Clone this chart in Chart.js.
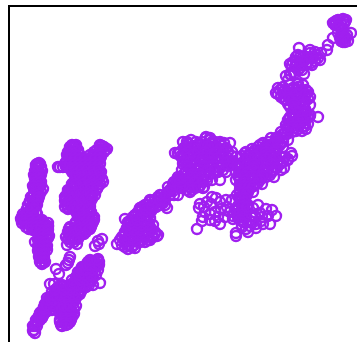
<!DOCTYPE html>
<html><head><meta charset="utf-8">
<style>html,body{margin:0;padding:0;background:#fff}#w{position:relative;width:357px;height:342px}</style>
<script src="https://cdn.jsdelivr.net/npm/chart.js@4"></script></head>
<body><div id="w"><canvas id="c" width="357" height="342"></canvas></div>
<script>
const leftColumn=[[39,179],[38,174],[39,169],[37,164],[38,159],[39,154],[38,149],[36,144],[33,139],[31,134],[33,129],[28,126],[24,121],[29,118],[35,123],[40,120],[45,117],[47,111],[41,114],[33,112],[29,113],[46,105],[41,107],[38,102],[38,96],[43,91],[40,90],[42,84],[42,78],[36,177],[41,172],[36,167],[40,162],[35,157],[41,157],[36,152],[41,150],[33,146],[38,142],[30,139],[35,136],[29,130],[36,130],[25,127],[21,123],[32,124],[27,121],[37,117],[32,117],[43,120],[48,116],[44,111],[37,110],[49,106],[43,102],[35,100],[41,97],[45,93],[38,91],[44,87],[39,85],[40,80],[45,80]];
const leftRows=[[178,[37,40]],[175,[36,41]],[171,[35,38,42]],[167,[34,38,41]],[163,[35,39]],[160,[36,41]],[156,[38,33]],[153,[34,38,43]],[148,[34,39]],[145,[31,39]],[141,[30,34,37]],[137,[28,33,37]],[133,[27,34]],[128,[23,27,32,37]],[125,[22,33]],[122,[22,26,31,37,42]],[119,[22,25,33,38,44,48]],[115,[26,31,36,41,46,48]],[112,[37,45,48]],[108,[39,44,48]],[104,[39,43,48]],[100,[39,41,46]],[96,[40,44,47]],[92,[40,44,47]],[88,[41,44]],[84,[41,44]],[80,[41,44]]];
const midColumn=[[72,194],[75,196],[78,192],[70,187],[74,184],[78,182],[68,177],[58,175],[63,175],[72,172],[78,170],[84,174],[90,177],[93,187],[97,192],[102,196],[107,193],[99,187],[96,180],[92,172],[97,167],[90,164],[83,166],[77,164],[78,163],[80,161],[73,157],[80,157],[87,157],[95,159],[100,158],[68,152],[66,146],[65,141],[65,135],[70,142],[75,147],[82,150],[90,150],[95,147],[78,138],[85,139],[72,134],[80,130],[87,132],[85,124],[90,120],[94,122],[80,118],[76,113],[71,110],[83,110],[88,114],[75,104],[67,97],[77,98],[70,105]];
const midRows=[[195,[70,74,100,104]],[190,[68,73,78,94,99,104]],[185,[68,72,77,92,97,101]],[180,[66,71,76,81,86,91,95]],[175,[60,66,71,76,81,87,93,98]],[170,[72,75,81,86,91,96,101]],[165,[78,80,86,93,100]],[160,[74,75,82,90,97,103]],[155,[72,77,84,92,98]],[150,[68,72,78,86,93]],[145,[65,70,77,84,90]],[140,[68,74,80,88]],[135,[68,76,83,90]],[130,[76,84,91]],[125,[78,82,88,94]],[120,[76,84,87,93]],[115,[70,78,86,91]],[110,[68,74,80,86]],[105,[66,73,79]],[100,[70,74]],
[197,[72,76,100]],[192,[70,75,97,101,105]],[187,[67,72,76,80,90,95,100]],[183,[70,75,80,85,90,95,100]],[178,[65,70,75,80,85,90,95,100]],[173,[72,77,82,88,94,99]],[168,[74,76,82,88,94,100]],[163,[80,84,90,96,102]],[158,[72,76,83,90,94,100]],[153,[72,79,85,91,97]],[148,[68,74,81,88,93]],[143,[66,72,79,86,92]],[138,[66,70,76,83,90]],[133,[68,74,82,89]],[128,[78,83,89]],[123,[79,84,89,93]],[118,[75,82,88,92]],[113,[69,74,80,85,90]],[108,[69,75,81,84]],[103,[68,74,78]]];
const midTail=[[68,79],[69,82],[70,85],[66,77],[98,101],[102,103],[95,96],[99,98]];
const lowerFork=[[56,73],[59,68],[50,58],[54,58],[63,56],[60,52],[52,50],[47,44],[50,44],[57,46],[62,43],[45,38],[48,34],[43,32],[41,27],[38,24],[36,20],[33,16],[33,11],[35,9],[55,39],[52,32],[60,34],[65,37],[62,29],[68,32],[64,22],[62,16],[68,18],[70,26],[70,31],[73,38],[76,44],[80,48],[77,54],[76,59],[78,64],[80,70],[83,74],[87,78],[92,80],[98,83],[97,77],[92,74],[87,70],[85,64],[90,62],[92,68],[100,59],[93,57],[86,55],[82,52],[72,47],[68,44]];
const forkRows=[[26,[39,43]],[30,[41,46]],[35,[44,50,56]],[40,[47,52,58,62,67,72]],[45,[51,55,60,65,71]],[50,[56,62,68,74,79]],[55,[58,66,73,80,85]],[60,[74,79,84,89]],[65,[76,82,88,93]],[70,[78,84,90,95]],[75,[82,90,96]],[80,[88,95,99]],[30,[62,67,72]],[25,[63,68,72]],[20,[60,65,70]],
[12,[34]],[16,[35,37]],[22,[36,40]],[24,[42]],[29,[44,40]],[33,[44,51]],[37,[47,53]],[42,[48,54,60,65,70,75]],[47,[53,60,66,73,78]],[52,[55,64,70,76,81]],[57,[62,70,77,83,89]],[62,[72,80,87,92]],[67,[79,85,91,96]],[72,[82,86,92,98]],[77,[87,90,95,99]],[82,[90,97]],[28,[60,65,70,74]],[33,[62,68,74]],[36,[64,70,76]],[22,[60,66,71]],[17,[61,66]]];
const centreBand=[[117,98],[124,107],[127,114],[125,123],[130,120],[133,114],[130,106],[135,102],[128,97],[128,93],[135,94],[140,100],[145,106],[150,102],[155,108],[157,106],[147,111],[141,117],[135,126],[140,134],[145,130],[150,124],[153,117],[147,137],[155,142],[159,144],[153,135],[160,137],[167,134],[163,139],[170,147],[173,158],[178,160],[173,151],[178,147],[182,154],[186,157]];
const bandRows=[[95,[125,132]],[100,[125,132,138,145]],[105,[122,128,134,140,147,153]],[110,[125,131,137,143,149,155]],[115,[130,137,143,150]],[120,[128,135,142,148]],[125,[133,140,146]],[130,[138,144,150]],[135,[142,150,156]],[140,[150,157,163]],[145,[158,165]],[150,[168]],[155,[178,168]],
[97,[122,128,134]],[102,[120,128,135,142,148]],[107,[125,131,138,145,152,158]],[112,[128,134,140,146,152]],[117,[129,135,141,148]],[122,[131,137,144,150]],[127,[135,142,148]],[132,[140,146,152]],[137,[145,152,158,165]],[142,[150,160,165]],[147,[160,166,174]],[152,[170]]];
const centreCluster=[[183,200],[180,190],[191,202],[197,197],[206,205],[210,202],[215,200],[224,199],[230,199],[185,192],[193,190],[202,192],[210,192],[220,190],[228,190],[236,185],[186,182],[195,182],[205,182],[215,182],[225,182],[178,189],[175,189],[190,174],[200,174],[210,174],[220,174],[230,180],[235,177],[180,164],[187,167],[195,167],[205,167],[215,170],[175,157],[182,159],[190,159],[198,162],[207,161],[172,154],[195,154],[187,152],[203,154]];
const clusterRows=[[198,[188,200,212,220]],[194,[184,192,197,204,210,218,226]],[186,[181,190,197,207,213,220,232]],[178,[183,192,197,207,213,223,232]],[170,[186,193,205,218,226]],[162,[177,185,193,202,212,220]],[156,[178,184,193,200]],[150,[190]],
[204,[206,210]],[200,[187,196,202,212,220]],[196,[186,195,208,215,222]],[190,[188,198,205,216,224,232]],[188,[178,184,194,212]],[184,[182,188,199,203,210,218,228]],[180,[184,190,201,210,218,227,233]],[176,[187,195,204,212,222,228]],[172,[182,190,198,208,215,223]],[168,[184,192,200,210]],[165,[178,190,202,208]],[160,[174,180,188,195,203]],[155,[180,190,198,204]],[152,[192]]];
const risingChain=[[240,184],[245,182],[250,189],[258,195],[263,199],[271,204],[278,205],[285,209],[281,210],[268,197],[275,195],[255,192],[262,192],[270,190],[280,199],[288,202],[245,189],[252,184],[259,186],[240,177],[247,174],[251,172],[258,175],[265,179],[271,182],[278,182],[285,185],[291,189],[288,182],[281,179],[275,175],[268,172],[260,170],[255,164],[262,164],[270,167],[258,159],[250,162],[245,167],[243,157],[250,154],[240,150],[247,147],[253,150],[245,142],[241,141],[238,134],[240,130],[248,137],[233,123],[238,127],[245,130],[237,147],[236,162],[236,170]];
const chainRows=[[200,[275,283]],[195,[265,283]],[188,[258,266,275]],[180,[244,250,262,268,274,283]],[172,[243,254,263,272,281]],[165,[240,250,258,266,274]],[158,[240,246,254,262]],[152,[240,244,249]],[145,[240,245]],[138,[241,245]],[132,[238,244,245]],[126,[233,240,246]],
[208,[283,287]],[204,[276,283]],[200,[268,278]],[197,[260,272,280]],[193,[252,266,277]],[190,[246,258,266,274]],[186,[242,248,255,264,270,280,292]],[183,[248,258,266,274,288]],[178,[238,248,254,262,272,280]],[174,[238,254,266,277,284]],[170,[240,248,256,264,272]],[166,[238,245,252,262]],[162,[240,246,253,260]],[156,[240,244,250,254]],[150,[240,244,248]],[144,[239,242,245]],[140,[240,244]],[136,[238,243]],[128,[237,243]],[124,[238,245]]];
const lowerRight=[[197,113],[202,121],[200,138],[199,134],[216,144],[211,138],[221,133],[215,121],[210,128],[236,106],[236,109],[246,113],[256,114],[253,134],[266,133],[276,126],[270,118],[261,121],[250,121],[260,129],[205,130],[215,130],[225,125],[243,120],[243,128],[252,127],[268,126],[207,140],[212,145],[220,140],[226,142],[203,125],[210,122],[220,118],[230,130],[247,135],[255,126],[263,118],[242,115],[250,116],[272,132],[258,137],[227,135],[232,142],[204,135],[218,125],[225,132],[240,122],[256,118],[262,125],[248,110],[253,120]];
const upperCluster=[[290,225],[298,232],[308,225],[286,217],[295,214],[303,215],[306,222],[291,220],[300,224],[310,227],[318,225],[297,219],[302,229],[292,210],[276,249],[278,254],[285,252],[293,254],[303,257],[308,250],[310,245],[295,245],[286,242],[303,242],[290,235],[310,237],[298,250],[291,247],[281,245],[300,237]];
const upperRows=[[255,[283,298]],[250,[283,288,303]],[245,[290,300,305]],[240,[292,296,305]],[235,[296,303]],[228,[293,306]],[224,[290,295,305]],[218,[290,300,308]],[213,[288,298,306]],
[258,[298]],[252,[280,290,296,301,306]],[248,[278,285,296,306]],[243,[284,290,298,308]],[238,[288,294,303]],[233,[294,305]],[230,[298,305]],[226,[293,302,310]],[222,[288,298,303]],[216,[288,293,299,305]],[211,[296,302]]];
const neckCluster=[[286,266],[291,267],[288,262],[299,294],[293,280],[298,287],[303,285],[310,289],[315,290],[320,282],[316,287],[305,282],[296,277],[304,268],[295,275],[306,277],[313,284],[321,289],[300,280],[290,278],[298,272],[300,274],[308,280],[311,279],[318,284],[310,292],[296,285],[300,285],[307,285],[312,285],[296,281],[302,281],[315,281],[292,277],[300,277],[312,277],[302,272],[290,268],[294,268]];
const topRight=[[328,297],[327,292],[333,304],[333,319],[338,322],[343,323],[335,317],[341,318],[346,322],[341,307],[338,309],[345,300],[346,304],[351,309],[343,300],[340,304],[336,321],[340,315],[344,318],[342,303],[347,307],[344,307],[335,320],[345,320],[338,316],[343,305],[341,301],[348,301]];
const fromRows=rows=>rows.flatMap(([y,xs])=>xs.map(x=>[x,y]));
const allPoints=[leftColumn,fromRows(leftRows),midColumn,fromRows(midRows),midTail,lowerFork,fromRows(forkRows),centreBand,fromRows(bandRows),centreCluster,fromRows(clusterRows),risingChain,fromRows(chainRows),lowerRight,upperCluster,fromRows(upperRows),neckCluster,topRight].flat().map(([x,y])=>({x,y}));
new Chart(document.getElementById('c'),{type:'scatter',
data:{datasets:[{data:allPoints,showLine:false,pointStyle:'circle',pointRadius:5,borderWidth:2.4,pointBorderWidth:2.4,pointBorderColor:'#A020F0',backgroundColor:'transparent',pointBackgroundColor:'transparent',clip:false}]},
options:{responsive:false,animation:false,events:[],layout:{autoPadding:false,padding:{left:9,top:6,right:0,bottom:0}},
plugins:{legend:{display:false},tooltip:{enabled:false}},
scales:{x:{type:'linear',position:'top',min:9,max:357,grid:{display:false,drawTicks:false},border:{color:'#000',width:2},ticks:{display:false}},
y:{type:'linear',position:'left',min:0,max:336,grid:{display:false,drawTicks:false},border:{color:'#000',width:2},ticks:{display:false}}}}});
</script></body></html>
